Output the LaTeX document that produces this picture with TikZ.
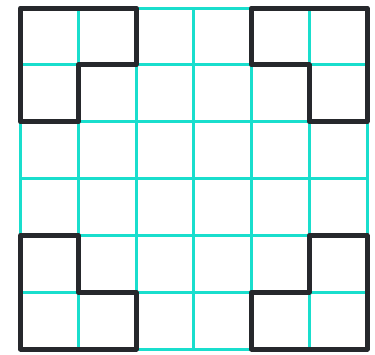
\documentclass[tikz,border=0pt]{standalone}
\begin{document}
\begin{tikzpicture}[x=1pt,y=-1pt,
  gridline/.style={draw=gridcyan,line width=3pt},
  lshape/.style={draw=shapeblack,line width=5pt,line join=round,line cap=round}]
\definecolor{gridcyan}{RGB}{25,222,205}
\definecolor{shapeblack}{RGB}{38,40,44}
\useasboundingbox (0,0) rectangle (375,354);
\fill[white] (0,0) rectangle (375,354);
\foreach \i in {0,...,6}{
  \coordinate (X\i) at ({20.5+57.75*\i},0);
  \coordinate (Y\i) at (0,{8+56.85*\i});
}
\foreach \i in {0,...,6}{
  \draw[gridline] (X\i |- Y0) -- (X\i |- Y6);
  \draw[gridline] (X0 |- Y\i) -- (X6 |- Y\i);
}
% top-left
\draw[lshape] (X0|-Y0) -- (X2|-Y0) -- (X2|-Y1) -- (X1|-Y1) -- (X1|-Y2) -- (X0|-Y2) -- cycle;
% top-right
\draw[lshape] (X4|-Y0) -- (X6|-Y0) -- (X6|-Y2) -- (X5|-Y2) -- (X5|-Y1) -- (X4|-Y1) -- cycle;
% bottom-left
\draw[lshape] (X0|-Y4) -- (X1|-Y4) -- (X1|-Y5) -- (X2|-Y5) -- (X2|-Y6) -- (X0|-Y6) -- cycle;
% bottom-right
\draw[lshape] (X5|-Y4) -- (X6|-Y4) -- (X6|-Y6) -- (X4|-Y6) -- (X4|-Y5) -- (X5|-Y5) -- cycle;
\end{tikzpicture}
\end{document}
